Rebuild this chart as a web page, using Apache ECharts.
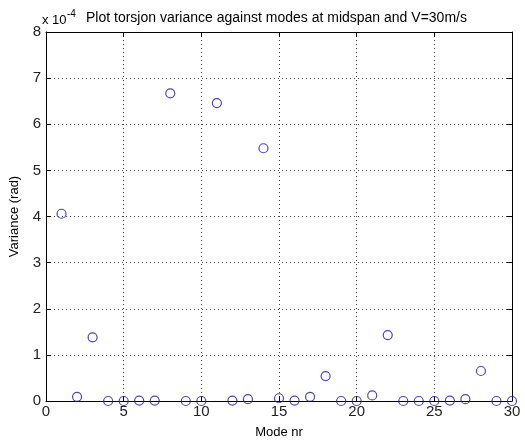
<!DOCTYPE html>
<html>
<head>
<meta charset="utf-8">
<script src="https://cdn.jsdelivr.net/npm/echarts@6/dist/echarts.min.js"></script>
<style>
  html, body { margin: 0; padding: 0; background: #ffffff; }
  #chart { width: 525px; height: 446px; }
</style>
</head>
<body>
<div id="chart"></div>
<script>
// Torsion variance per mode (values in units of 1e-4 rad)
const modes = [1,2,3,4,5,6,7,8,9,10,11,12,13,14,15,16,17,18,19,20,21,22,23,24,25,26,27,28,29,30];
const variance = [4.06,0.09,1.38,0,0,0.01,0.01,6.67,0,0,6.46,0.01,0.04,5.48,0.06,0.01,0.09,0.54,0,0,0.12,1.43,0,0,0,0.01,0.04,0.65,0,0];
const xTicks = [0,5,10,15,20,25,30];
const yTicks = [0,1,2,3,4,5,6,7,8];

const titleText = 'Plot torsjon variance against modes at midspan and V=30m/s';
const xLabel = 'Mode nr';
const yLabel = 'Variance (rad)';

const font = 'Liberation Sans, Arial, sans-serif';
const chart = echarts.init(document.getElementById('chart'), null, { renderer: 'canvas' });

const gridLine = { show: true, lineStyle: { color: '#444', type: [1, 3], width: 1 } };
const axisLine = { show: true, onZero: false, lineStyle: { color: '#000', width: 1 } };
const tick = { show: true, inside: true, length: 5, lineStyle: { color: '#000' } };

chart.setOption({
  animation: false,
  backgroundColor: '#ffffff',
  grid: { left: 43, right: 13, top: 32, bottom: 45, containLabel: false },
  graphic: [
    { type: 'text', left: 42, top: 14, style: { text: 'x 10', font: '13px ' + font, fill: '#000' } },
    { type: 'text', left: 67, top: 9, style: { text: '-4', font: '10px ' + font, fill: '#000' } },
    { type: 'text', left: 86, top: 11, style: { text: titleText, font: '14px ' + font, fill: '#000' } }
  ],
  xAxis: [
    {
      type: 'value', min: 0, max: 30, interval: 5,
      axisLine, axisTick: tick, splitLine: gridLine,
      axisLabel: { color: '#222', fontSize: 15, fontFamily: font, margin: 3 },
      name: xLabel, nameLocation: 'middle', nameGap: 25,
      nameTextStyle: { color: '#000', fontSize: 13, fontFamily: font }
    },
    {
      type: 'value', position: 'top', min: 0, max: 30, interval: 5,
      axisLine, axisTick: tick, splitLine: { show: false }, axisLabel: { show: false }
    }
  ],
  yAxis: [
    {
      type: 'value', min: 0, max: 8, interval: 1,
      axisLine, axisTick: tick, splitLine: gridLine,
      axisLabel: { color: '#222', fontSize: 15, fontFamily: font, margin: 5 },
      name: yLabel, nameLocation: 'middle', nameGap: 25, nameRotate: 90,
      nameTextStyle: { color: '#000', fontSize: 13, fontFamily: font }
    },
    {
      type: 'value', position: 'right', min: 0, max: 8, interval: 1,
      axisLine, axisTick: tick, splitLine: { show: false }, axisLabel: { show: false }
    }
  ],
  series: [{
    type: 'scatter',
    data: modes.map((m, i) => [m, variance[i]]),
    symbol: 'circle',
    symbolSize: 9,
    itemStyle: { color: 'rgba(0,0,0,0)', borderColor: '#1a1aa8', borderWidth: 1.2 },
    clip: false,
    z: 5
  }]
});
</script>
</body>
</html>
